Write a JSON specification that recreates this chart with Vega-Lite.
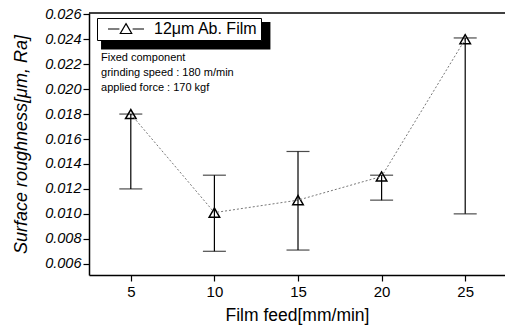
{
  "$schema": "https://vega.github.io/schema/vega-lite/v6.json",
  "width": 416,
  "height": 262,
  "autosize": {"type": "none"},
  "padding": {"left": 89, "top": 13, "right": 0, "bottom": 57},
  "background": "white",
  "config": {
    "font": "Liberation Sans",
    "view": {"stroke": null},
    "axis": {
      "grid": false,
      "domainColor": "black",
      "domainWidth": 1.5,
      "tickColor": "black",
      "tickWidth": 1.2,
      "tickSize": 6,
      "labelColor": "black",
      "titleColor": "black",
      "titleFontWeight": "normal",
      "labelFont": "Liberation Sans",
      "titleFont": "Liberation Sans"
    }
  },
  "datasets": {
    "pts": [
      {"feed": 5, "ra": 0.018, "lo": 0.012, "hi": 0.018, "series": "12μm Ab. Film"},
      {"feed": 10, "ra": 0.0101, "lo": 0.007, "hi": 0.0131, "series": "12μm Ab. Film"},
      {"feed": 15, "ra": 0.0111, "lo": 0.0071, "hi": 0.015, "series": "12μm Ab. Film"},
      {"feed": 20, "ra": 0.0130, "lo": 0.0111, "hi": 0.0131, "series": "12μm Ab. Film"},
      {"feed": 25, "ra": 0.0240, "lo": 0.0100, "hi": 0.0241, "series": "12μm Ab. Film"}
    ],
    "notes": [
      {"note": "Fixed component", "k": 1},
      {"note": "grinding speed : 180 m/min", "k": 2},
      {"note": "applied force : 170 kgf", "k": 3}
    ],
    "box": [
      {"x0": 3.22, "x1": 13.35, "y0": 0.02538, "y1": 0.02318}
    ]
  },
  "layer": [
    {
      "data": {"name": "box"},
      "mark": {"type": "rect", "fill": "black", "stroke": null},
      "encoding": {
        "x": {"field": "x0", "type": "quantitative"},
        "x2": {"field": "x1"},
        "y": {"field": "y0", "type": "quantitative"},
        "y2": {"field": "y1"}
      }
    },
    {
      "data": {"name": "pts"},
      "mark": {"type": "point", "shape": "triangle-up", "filled": false, "size": 110, "strokeWidth": 1.5, "opacity": 1},
      "encoding": {
        "x": {
          "field": "feed", "type": "quantitative",
          "scale": {"domain": [2.5, 27.38], "nice": false, "zero": false},
          "axis": {
            "values": [5, 10, 15, 20, 25],
            "tickCount": 20,
            "title": "Film feed[mm/min]",
            "labelFontSize": 15,
            "labelPadding": 3,
            "titleFontSize": 17.5,
            "titlePadding": 7,
            "labelOverlap": false
          }
        },
        "y": {
          "field": "ra", "type": "quantitative",
          "scale": {"domain": [0.0051, 0.0261], "nice": false, "zero": false},
          "axis": {
            "values": [0.006, 0.008, 0.010, 0.012, 0.014, 0.016, 0.018, 0.020, 0.022, 0.024, 0.026],
            "tickCount": 20,
            "format": ".3f",
            "title": "Surface roughness[μm, Ra]",
            "labelFontSize": 14.5,
            "labelFontStyle": "italic",
            "labelPadding": 2,
            "titleFontSize": 18,
            "titleFontStyle": "italic",
            "titlePadding": 14,
            "labelOverlap": false
          }
        },
        "color": {
          "field": "series", "type": "nominal",
          "scale": {"range": ["black"]},
          "legend": {
            "title": null,
            "orient": "none",
            "legendX": 8,
            "legendY": 5,
            "strokeColor": "black",
            "fillColor": "white",
            "padding": 3,
            "symbolType": "M-3,0H-1.1M1.1,0H3M0,-0.9L0.95,0.75L-0.95,0.75Z",
            "symbolSize": 144,
            "symbolOffset": 18,
            "symbolStrokeWidth": 1.2,
            "symbolStrokeColor": "black",
            "symbolFillColor": "transparent",
            "labelFontSize": 16,
            "labelColor": "black",
            "labelOffset": 20,
            "labelFont": "Liberation Sans"
          }
        }
      }
    },
    {
      "data": {"name": "pts"},
      "mark": {"type": "line", "color": "#777", "strokeWidth": 1, "strokeDash": [2, 2]},
      "encoding": {
        "x": {"field": "feed", "type": "quantitative"},
        "y": {"field": "ra", "type": "quantitative"}
      }
    },
    {
      "data": {"name": "pts"},
      "mark": {"type": "rule", "color": "black", "strokeWidth": 1.2},
      "encoding": {
        "x": {"field": "feed", "type": "quantitative"},
        "y": {"field": "lo", "type": "quantitative"},
        "y2": {"field": "hi"}
      }
    },
    {
      "data": {"name": "pts"},
      "mark": {"type": "tick", "orient": "horizontal", "color": "black", "size": 23, "thickness": 1.2},
      "encoding": {
        "x": {"field": "feed", "type": "quantitative"},
        "y": {"field": "lo", "type": "quantitative"}
      }
    },
    {
      "data": {"name": "pts"},
      "mark": {"type": "tick", "orient": "horizontal", "color": "black", "size": 23, "thickness": 1.2},
      "encoding": {
        "x": {"field": "feed", "type": "quantitative"},
        "y": {"field": "hi", "type": "quantitative"}
      }
    },
    {
      "data": {"values": [{"edge": 0.0261}]},
      "mark": {"type": "rule", "color": "black", "strokeWidth": 1.5},
      "encoding": {"y": {"field": "edge", "type": "quantitative"}}
    },
    {
      "data": {"name": "notes"},
      "transform": [{"filter": "datum.k == 1"}],
      "mark": {"type": "text", "align": "left", "baseline": "alphabetic", "fontSize": 11, "color": "black", "font": "Liberation Sans"},
      "encoding": {
        "x": {"datum": 3.22, "type": "quantitative"},
        "y": {"datum": 0.02229, "type": "quantitative"},
        "text": {"field": "note", "type": "nominal"}
      }
    },
    {
      "data": {"name": "notes"},
      "transform": [{"filter": "datum.k == 2"}],
      "mark": {"type": "text", "align": "left", "baseline": "alphabetic", "fontSize": 11, "color": "black", "font": "Liberation Sans"},
      "encoding": {
        "x": {"datum": 3.22, "type": "quantitative"},
        "y": {"datum": 0.02105, "type": "quantitative"},
        "text": {"field": "note", "type": "nominal"}
      }
    },
    {
      "data": {"name": "notes"},
      "transform": [{"filter": "datum.k == 3"}],
      "mark": {"type": "text", "align": "left", "baseline": "alphabetic", "fontSize": 11, "color": "black", "font": "Liberation Sans"},
      "encoding": {
        "x": {"datum": 3.22, "type": "quantitative"},
        "y": {"datum": 0.01981, "type": "quantitative"},
        "text": {"field": "note", "type": "nominal"}
      }
    }
  ]
}
